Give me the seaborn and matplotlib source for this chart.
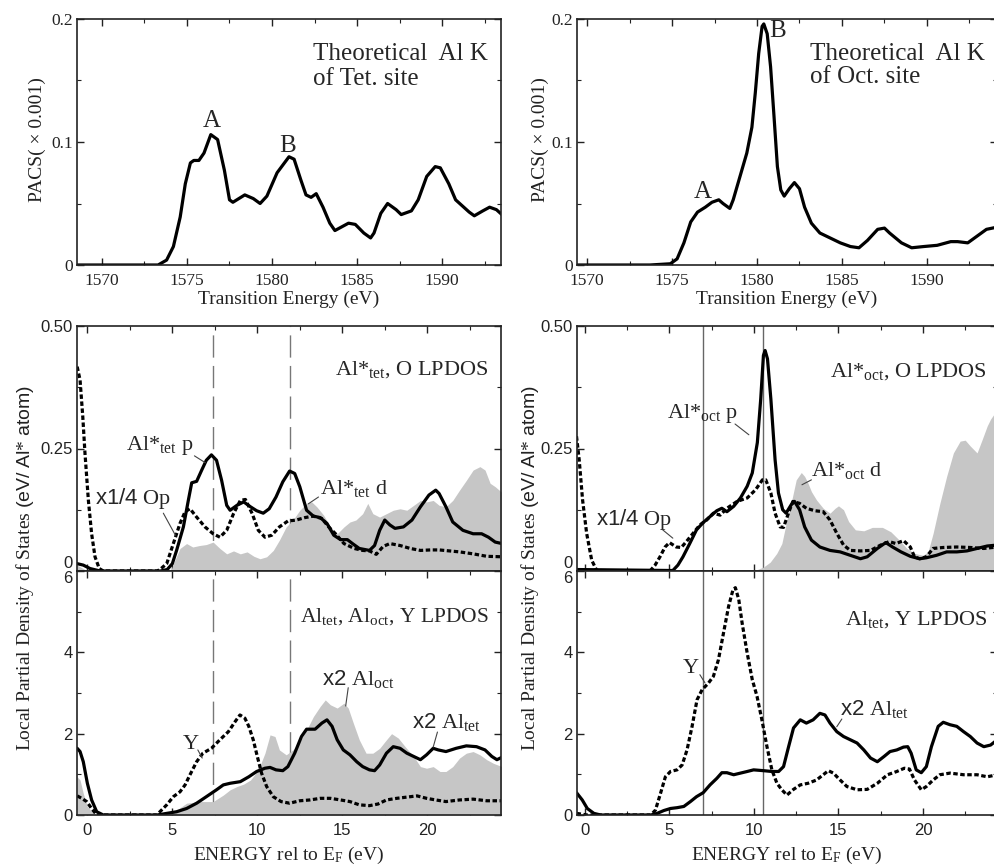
import numpy as np
import matplotlib
matplotlib.use("Agg")
import matplotlib.pyplot as plt
import seaborn as sns
from matplotlib.ticker import MultipleLocator

# ---------------- data ----------------
# XANES (top panels)
E_tet = [1568.5, 1573.3, 1573.8, 1574.2, 1574.6, 1574.9, 1575.2, 1575.4, 1575.7, 1576.0, 1576.4, 1576.8,
         1577.2, 1577.5, 1577.7, 1578.4, 1578.9, 1579.3, 1579.7, 1580.3, 1581.0, 1581.3, 1581.7, 1582.0,
         1582.3, 1582.6, 1583.0, 1583.4, 1583.7, 1584.1, 1584.5, 1584.9, 1585.4, 1585.8, 1586.0, 1586.4,
         1586.8, 1587.3, 1587.6, 1588.2, 1588.6, 1589.1, 1589.6, 1589.9, 1590.4, 1590.8, 1591.2, 1591.6,
         1591.9, 1592.4, 1592.8, 1593.2, 1593.6]
P_tet = [0, 0, 0.004, 0.015, 0.039, 0.066, 0.083, 0.085, 0.085, 0.091, 0.106, 0.102,
         0.077, 0.053, 0.051, 0.057, 0.054, 0.050, 0.056, 0.075, 0.088, 0.086, 0.069, 0.057,
         0.055, 0.058, 0.047, 0.034, 0.028, 0.031, 0.034, 0.033, 0.026, 0.022, 0.026, 0.042,
         0.050, 0.045, 0.041, 0.044, 0.053, 0.072, 0.080, 0.079, 0.066, 0.053, 0.048, 0.043,
         0.040, 0.044, 0.047, 0.045, 0.040]

E_oct = [1569.4, 1573.7, 1574.9, 1575.3, 1575.7, 1576.1, 1576.5, 1576.96, 1577.35, 1577.75, 1578.0,
         1578.4, 1578.6, 1579.0, 1579.4, 1579.7, 1579.9, 1580.1, 1580.3, 1580.4, 1580.6, 1580.8, 1581.0,
         1581.2, 1581.4, 1581.6, 1581.9, 1582.2, 1582.5, 1582.8, 1583.2, 1583.7, 1584.3, 1584.9, 1585.5,
         1586.0, 1586.5, 1587.1, 1587.5, 1587.8, 1588.5, 1589.1, 1589.8, 1590.6, 1591.4, 1591.8, 1592.4,
         1593.0, 1593.5, 1594.2]
P_oct = [0, 0, 0.001, 0.005, 0.018, 0.035, 0.043, 0.047, 0.051, 0.053, 0.050,
         0.046, 0.053, 0.072, 0.091, 0.112, 0.140, 0.172, 0.194, 0.196, 0.188, 0.161, 0.121,
         0.080, 0.061, 0.056, 0.062, 0.067, 0.062, 0.047, 0.034, 0.026, 0.022, 0.018, 0.015,
         0.014, 0.020, 0.029, 0.030, 0.026, 0.018, 0.014, 0.015, 0.016, 0.019, 0.019, 0.018,
         0.024, 0.029, 0.031]

# Middle-left: Al*tet p (solid), x1/4 O p (dashed), Al*tet d (filled)
Ep_tet = [-0.6, -0.24, 0.16, 0.75, 4.3, 4.7, 5.0, 5.25, 5.65, 5.94, 6.14, 6.43, 6.73, 7.0, 7.3, 7.6,
          7.9, 8.2, 8.4, 8.8, 9.2, 9.6, 9.96, 10.35, 10.7, 11.1, 11.5, 11.9, 12.2, 12.5, 12.9, 13.3,
          13.7, 14.1, 14.5, 14.9, 15.3, 15.6, 16.0, 16.6, 16.9, 17.2, 17.5, 17.8, 18.1, 18.6, 19.1,
          19.6, 20.1, 20.5, 20.7, 21.1, 21.5, 22.1, 22.7, 23.2, 23.6, 24.0, 24.4]
Vp_tet = [0.015, 0.012, 0.005, 0, 0, 0.003, 0.015, 0.042, 0.09, 0.144, 0.18, 0.183, 0.206, 0.226,
          0.237, 0.226, 0.185, 0.134, 0.124, 0.134, 0.141, 0.131, 0.123, 0.118, 0.127, 0.151, 0.182,
          0.204, 0.199, 0.172, 0.124, 0.112, 0.109, 0.097, 0.073, 0.064, 0.064, 0.056, 0.046, 0.042,
          0.052, 0.083, 0.104, 0.094, 0.087, 0.09, 0.104, 0.131, 0.155, 0.165, 0.158, 0.131, 0.100,
          0.083, 0.076, 0.076, 0.069, 0.059, 0.056]

Eo_tet = [-0.6, -0.43, -0.27, -0.14, 0.06, 0.25, 0.45, 0.7, 0.94, 4.1, 4.27, 4.67, 5.06, 5.45, 5.75,
          6.04, 6.43, 6.92, 7.4, 7.8, 8.2, 8.6, 9.0, 9.3, 9.7, 10.06, 10.45, 10.85, 11.3, 11.8, 12.3,
          12.8, 13.3, 13.8, 14.2, 14.6, 15.1, 15.7, 16.2, 16.6, 17.0, 17.4, 17.8, 18.4, 19.0, 19.6,
          20.2, 20.7, 21.3, 21.9, 22.7, 23.5, 24.4]
Vo_tet = [0.417, 0.39, 0.315, 0.24, 0.144, 0.076, 0.029, 0.005, 0, 0, 0.003, 0.015, 0.056, 0.097,
          0.121, 0.127, 0.110, 0.09, 0.076, 0.069, 0.083, 0.117, 0.144, 0.146, 0.117, 0.083, 0.069,
          0.073, 0.090, 0.102, 0.104, 0.109, 0.112, 0.107, 0.090, 0.076, 0.056, 0.046, 0.042, 0.041,
          0.034, 0.050, 0.056, 0.052, 0.046, 0.042, 0.043, 0.043, 0.041, 0.039, 0.035, 0.030, 0.029]

Ed_tet = [-0.6, -0.3, 0.0, 4.9, 5.06, 5.45, 5.84, 6.2, 6.6, 7.0, 7.4, 7.8, 8.2, 8.6, 9.0, 9.4, 9.8,
          10.16, 10.55, 10.94, 11.3, 11.7, 12.1, 12.5, 12.9, 13.2, 13.5, 13.9, 14.3, 14.7, 15.1,
          15.45, 15.8, 16.2, 16.5, 16.8, 17.2, 17.6, 18.0, 18.4, 18.8, 19.2, 19.6, 19.96, 20.35,
          20.7, 21.1, 21.5, 21.9, 22.3, 22.7, 23.1, 23.4, 23.7, 24.0, 24.4]
Vd_tet = [0.012, 0.006, 0, 0, 0.015, 0.046, 0.056, 0.049, 0.052, 0.054, 0.059, 0.046, 0.035, 0.041,
          0.035, 0.039, 0.030, 0.025, 0.029, 0.042, 0.063, 0.090, 0.104, 0.124, 0.138, 0.141, 0.131,
          0.114, 0.090, 0.076, 0.090, 0.100, 0.104, 0.117, 0.138, 0.117, 0.110, 0.117, 0.124, 0.127,
          0.124, 0.134, 0.144, 0.141, 0.144, 0.134, 0.131, 0.144, 0.165, 0.185, 0.206, 0.213, 0.206,
          0.179, 0.172, 0.160]

# Middle-right: Al*oct p, x1/4 O p, Al*oct d
Ep_oct = [-0.5, 5.2, 5.5, 5.8, 6.2, 6.6, 7.0, 7.4, 7.8, 8.1, 8.4, 8.8, 9.2, 9.6, 9.9, 10.2, 10.4,
          10.56, 10.66, 10.8, 11.0, 11.25, 11.45, 11.7, 11.9, 12.2, 12.4, 12.7, 13.0, 13.4, 13.9,
          14.5, 15.1, 15.7, 16.3, 16.7, 17.3, 17.8, 18.2, 18.7, 19.25, 19.8, 20.2, 20.8, 21.4, 22.0,
          22.6, 23.2, 23.8, 24.4]
Vp_oct = [0.003, 0.001, 0.012, 0.029, 0.056, 0.084, 0.099, 0.111, 0.123, 0.128, 0.121, 0.132, 0.149,
          0.173, 0.2, 0.262, 0.351, 0.44, 0.45, 0.433, 0.351, 0.227, 0.159, 0.125, 0.118, 0.135,
          0.142, 0.125, 0.09, 0.063, 0.049, 0.042, 0.039, 0.032, 0.025, 0.029, 0.046, 0.058, 0.049,
          0.039, 0.030, 0.025, 0.027, 0.032, 0.039, 0.039, 0.041, 0.046, 0.051, 0.053]

Eo_oct = [-0.5, -0.34, -0.14, 0.1, 0.4, 0.7, 3.85, 4.15, 4.44, 4.74, 5.0, 5.4, 5.7, 6.0, 6.4, 6.8,
          7.2, 7.6, 8.0, 8.4, 9.0, 9.6, 10.1, 10.5, 10.7, 11.0, 11.25, 11.55, 11.75, 12.04, 12.3,
          12.7, 13.1, 13.6, 14.1, 14.5, 14.9, 15.3, 15.7, 16.3, 16.9, 17.5, 18.0, 18.4, 18.85, 19.25,
          19.5, 19.8, 20.2, 20.6, 21.2, 22.0, 22.8, 23.6, 24.4]
Vo_oct = [0.275, 0.227, 0.145, 0.077, 0.022, 0.001, 0, 0.012, 0.029, 0.049, 0.058, 0.049, 0.048,
          0.06, 0.077, 0.094, 0.104, 0.118, 0.114, 0.128, 0.142, 0.149, 0.166, 0.186, 0.186, 0.159,
          0.118, 0.09, 0.089, 0.118, 0.142, 0.138, 0.128, 0.123, 0.121, 0.104, 0.077, 0.053, 0.042,
          0.041, 0.042, 0.053, 0.060, 0.056, 0.062, 0.049, 0.029, 0.025, 0.029, 0.046, 0.048, 0.049,
          0.048, 0.046, 0.049]

Ed_oct = [-0.5, 5.5, 6.0, 10.2, 10.56, 10.96, 11.35, 11.65, 11.95, 12.24, 12.5, 12.8, 13.0, 13.2,
          13.4, 13.7, 14.1, 14.5, 14.8, 15.0, 15.3, 15.6, 16.0, 16.5, 17.0, 17.6, 18.1, 18.6, 19.05,
          19.5, 20.0, 20.3, 20.6, 21.0, 21.4, 21.8, 22.2, 22.5, 22.8, 23.2, 23.5, 23.8, 24.0, 24.4]
Vd_oct = [0, 0, 0.003, 0.003, 0.008, 0.018, 0.036, 0.056, 0.104, 0.145, 0.186, 0.201, 0.193, 0.179,
          0.162, 0.145, 0.128, 0.118, 0.128, 0.133, 0.125, 0.101, 0.084, 0.082, 0.089, 0.089, 0.080,
          0.063, 0.046, 0.036, 0.032, 0.039, 0.077, 0.138, 0.193, 0.241, 0.265, 0.267, 0.255, 0.241,
          0.268, 0.296, 0.31, 0.33]

# Bottom-left: x2 Al_tet (solid), Y (dashed), x2 Al_oct (filled)
Et_bl = [-0.6, -0.43, -0.24, 0.0, 0.25, 0.55, 0.94, 4.1, 4.67, 5.25, 5.84, 6.43, 7.0, 7.6, 8.0, 8.4,
         9.0, 9.5, 9.96, 10.45, 10.75, 11.1, 11.5, 11.8, 12.2, 12.6, 12.9, 13.4, 13.8, 14.1, 14.4,
         14.7, 15.06, 15.45, 15.85, 16.2, 16.6, 16.9, 17.2, 17.6, 18.0, 18.4, 18.8, 19.2, 19.6,
         19.96, 20.35, 20.65, 21.1, 21.7, 22.3, 22.9, 23.4, 23.8, 24.1, 24.4]
Vt_bl = [1.64, 1.56, 1.31, 0.78, 0.37, 0.08, 0, 0, 0.04, 0.08, 0.16, 0.29, 0.45, 0.62, 0.74, 0.78,
         0.82, 0.94, 1.07, 1.15, 1.17, 1.11, 1.09, 1.19, 1.52, 1.93, 2.11, 2.11, 2.26, 2.34, 2.18,
         1.85, 1.60, 1.48, 1.31, 1.19, 1.11, 1.09, 1.23, 1.52, 1.68, 1.64, 1.52, 1.44, 1.36, 1.48,
         1.64, 1.60, 1.56, 1.64, 1.70, 1.68, 1.60, 1.44, 1.36, 1.42]

Ey_bl = [-0.6, -0.33, -0.04, 0.25, 0.55, 4.1, 4.27, 4.67, 5.06, 5.45, 5.75, 6.04, 6.43, 6.8, 7.3,
         7.8, 8.3, 8.7, 8.98, 9.27, 9.5, 9.76, 10.0, 10.25, 10.55, 10.94, 11.4, 11.9, 12.5, 13.1,
         13.7, 14.3, 14.9, 15.45, 16.0, 16.6, 17.1, 17.6, 18.2, 18.8, 19.4, 19.96, 20.5, 21.1, 21.9,
         22.7, 23.5, 24.4]
Vy_bl = [0.47, 0.41, 0.33, 0.16, 0, 0, 0.08, 0.25, 0.45, 0.57, 0.74, 0.99, 1.31, 1.52, 1.64, 1.85,
         2.05, 2.30, 2.46, 2.38, 2.18, 1.85, 1.44, 1.03, 0.70, 0.45, 0.33, 0.29, 0.35, 0.37, 0.41,
         0.41, 0.37, 0.33, 0.25, 0.23, 0.27, 0.37, 0.41, 0.44, 0.47, 0.41, 0.37, 0.33, 0.37, 0.39,
         0.35, 0.35]

Ef_bl = [-0.6, -0.43, -0.24, 0.0, 0.35, 0.75, 4.1, 4.67, 5.25, 5.84, 6.6, 7.4, 8.0, 8.4, 8.8, 9.2,
         9.6, 10.06, 10.45, 10.75, 11.04, 11.3, 11.7, 12.1, 12.5, 12.9, 13.3, 13.7, 14.0, 14.3, 14.7,
         15.1, 15.35, 15.65, 16.0, 16.4, 16.8, 17.2, 17.6, 17.9, 18.3, 18.7, 19.2, 19.6, 19.96,
         20.35, 20.75, 21.1, 21.5, 21.9, 22.3, 22.7, 23.1, 23.5, 23.9, 24.4]
Vf_bl = [0.94, 0.86, 0.53, 0.21, 0.04, 0, 0, 0.04, 0.12, 0.29, 0.33, 0.33, 0.49, 0.62, 0.70, 0.76,
         0.86, 1.11, 1.52, 1.97, 1.93, 1.60, 1.48, 1.60, 1.81, 2.09, 2.42, 2.67, 2.83, 2.71, 2.63,
         2.75, 2.63, 2.26, 1.85, 1.52, 1.52, 1.64, 1.85, 2.0, 1.89, 1.68, 1.44, 1.19, 1.15, 1.19,
         1.07, 1.07, 1.19, 1.40, 1.52, 1.56, 1.48, 1.36, 1.27, 1.19]

# Bottom-right: x2 Al_tet (solid), Y (dashed)
Et_br = [-0.5, -0.16, 0.14, 0.53, 0.93, 3.9, 4.27, 4.67, 5.06, 5.45, 5.85, 6.24, 6.6, 7.0, 7.4, 7.8,
         8.1, 8.4, 8.8, 9.2, 9.6, 9.98, 10.57, 11.06, 11.46, 11.75, 12.05, 12.34, 12.74, 13.1, 13.5,
         13.9, 14.2, 14.5, 14.9, 15.3, 15.7, 16.1, 16.5, 16.9, 17.3, 17.7, 18.05, 18.45, 18.85, 19.1,
         19.3, 19.6, 19.9, 20.2, 20.5, 20.9, 21.2, 21.6, 22.0, 22.4, 22.8, 23.2, 23.6, 24.0, 24.4]
Vt_br = [0.55, 0.37, 0.16, 0.04, 0, 0, 0.04, 0.11, 0.16, 0.18, 0.21, 0.33, 0.45, 0.55, 0.74, 0.90,
         1.04, 1.04, 0.99, 1.03, 1.07, 1.11, 1.09, 1.07, 1.07, 1.19, 1.68, 2.14, 2.34, 2.26, 2.34,
         2.5, 2.46, 2.26, 2.05, 1.93, 1.85, 1.77, 1.60, 1.40, 1.31, 1.44, 1.56, 1.60, 1.67, 1.68,
         1.52, 1.11, 1.04, 1.19, 1.68, 2.18, 2.28, 2.22, 2.18, 2.05, 1.93, 1.77, 1.68, 1.72, 1.85]

Ey_br = [-0.5, 0.14, 3.9, 4.17, 4.47, 4.76, 5.06, 5.45, 5.75, 6.04, 6.34, 6.63, 6.93, 7.3, 7.6, 7.9,
         8.2, 8.5, 8.76, 8.9, 9.1, 9.3, 9.6, 9.9, 10.18, 10.47, 10.77, 11.06, 11.36, 11.65, 11.95,
         12.34, 12.74, 13.2, 13.7, 14.1, 14.4, 14.7, 15.1, 15.5, 16.1, 16.7, 17.3, 17.9, 18.45, 18.9,
         19.2, 19.5, 19.9, 20.2, 20.6, 21.0, 21.6, 22.4, 23.2, 23.8, 24.4]
Vy_br = [0.04, 0, 0, 0.12, 0.53, 0.94, 1.07, 1.11, 1.23, 1.60, 2.18, 2.83, 3.08, 3.24, 3.41, 3.82,
         4.48, 5.13, 5.54, 5.59, 5.30, 4.72, 3.98, 3.33, 2.92, 2.34, 1.68, 1.11, 0.78, 0.62, 0.49,
         0.63, 0.74, 0.78, 0.86, 0.99, 1.09, 1.03, 0.86, 0.70, 0.62, 0.63, 0.78, 0.99, 1.07, 1.15,
         1.13, 0.86, 0.62, 0.70, 0.86, 0.99, 1.03, 0.99, 0.99, 0.94, 0.99]

# reference energies (vertical lines)
vlines_left = [7.4, 11.9]
vlines_right = [7.0, 10.55]

# ---------------- style ----------------
sns.set_theme(style="ticks")
plt.rcParams.update({
    "font.family": ["Liberation Serif", "DejaVu Serif"],
    "mathtext.fontset": "custom",
    "mathtext.rm": "Liberation Serif",
    "mathtext.it": "Liberation Serif:italic",
    "mathtext.bf": "Liberation Serif:bold",
    "mathtext.sf": "Liberation Sans",
    "axes.linewidth": 1.2,
    "axes.edgecolor": "#222222",
    "xtick.direction": "in",
    "ytick.direction": "in",
    "xtick.top": True,
    "ytick.right": True,
})

W, H = 994, 868
fig = plt.figure(figsize=(W / 100, H / 100), dpi=100)


def rect(l, r, t, b):
    return [l / W, 1 - b / H, (r - l) / W, (b - t) / H]


ax_tl = fig.add_axes(rect(77, 501, 19, 265))
ax_tr = fig.add_axes(rect(577, 997, 19, 265))
ax_ml = fig.add_axes(rect(77, 501, 326, 571))
ax_bl = fig.add_axes(rect(77, 501, 571, 815))
ax_mr = fig.add_axes(rect(577, 997, 326, 571))
ax_br = fig.add_axes(rect(577, 997, 571, 815))

LW = 2.3
DASH = (0, (1.4, 0.8))
SERIF = ["Liberation Serif", "DejaVu Serif"]
SANS = ["Liberation Sans", "DejaVu Sans"]
FILL = "#c6c6c6"
LEAD = dict(arrowstyle="-", color="#444444", lw=0.8, shrinkA=0, shrinkB=0)


def line(ax, x, y, dashed=False):
    sns.lineplot(x=x, y=y, ax=ax, color="black", lw=LW, ls=DASH if dashed else "-",
                 sort=False, estimator=None)


def tick_style(ax, sans):
    ax.tick_params(which="major", length=5, width=1.0, color="#222222")
    ax.tick_params(which="minor", length=3, width=0.8, color="#222222")
    ax.tick_params(axis="x", which="major", pad=6)
    ax.tick_params(axis="y", which="major", pad=3)
    for lab in ax.get_xticklabels() + ax.get_yticklabels():
        lab.set_family(SANS if sans else SERIF)
        lab.set_fontsize(12 if sans else 12.5)
        lab.set_color("#222222")


# ---------------- top panels ----------------
for ax, E, P, xl in [(ax_tl, E_tet, P_tet, (1568.53, 1593.47)),
                     (ax_tr, E_oct, P_oct, (1569.41, 1594.12))]:
    line(ax, E, P)
    ax.set_xlim(*xl)
    ax.set_ylim(0, 0.2)
    ax.xaxis.set_major_locator(MultipleLocator(5))
    ax.xaxis.set_minor_locator(MultipleLocator(2.5))
    ax.yaxis.set_minor_locator(MultipleLocator(0.05))
    ax.set_yticks([0, 0.1, 0.2])
    ax.set_yticklabels(["0", "0.1", "0.2"])
    ax.set_xlabel("Transition Energy (eV)", fontsize=14, labelpad=1, color="#222222")
    ax.set_ylabel("")
    tick_style(ax, sans=False)

fig.text(37 / W, 1 - 140 / H, "PACS( × 0.001)", rotation=90, ha="center", va="center",
         fontsize=14, color="#222222")
fig.text(540 / W, 1 - 140 / H, "PACS( × 0.001)", rotation=90, ha="center", va="center",
         fontsize=14, color="#222222")

TS = 18
ax_tl.text(1576.47, 0.112, "A", ha="center", va="baseline", fontsize=TS)
ax_tl.text(1580.94, 0.092, "B", ha="center", va="baseline", fontsize=TS)
ax_tl.text(1582.4, 0.1667, "Theoretical  Al K", ha="left", va="baseline", fontsize=TS)
ax_tl.text(1582.4, 0.1463, "of Tet. site", ha="left", va="baseline", fontsize=TS)

ax_tr.text(1576.8, 0.0545, "A", ha="center", va="baseline", fontsize=TS)
ax_tr.text(1581.2, 0.185, "B", ha="center", va="baseline", fontsize=TS)
ax_tr.text(1583.1, 0.1667, "Theoretical  Al K", ha="left", va="baseline", fontsize=TS)
ax_tr.text(1583.1, 0.148, "of Oct. site", ha="left", va="baseline", fontsize=TS)

# ---------------- middle panels ----------------
ax_ml.fill_between(Ed_tet, 0, Vd_tet, color=FILL, lw=0, zorder=1)
line(ax_ml, Ep_tet, Vp_tet)
line(ax_ml, Eo_tet, Vo_tet, dashed=True)

ax_mr.fill_between(Ed_oct, 0, Vd_oct, color=FILL, lw=0, zorder=1)
line(ax_mr, Ep_oct, Vp_oct)
line(ax_mr, Eo_oct, Vo_oct, dashed=True)

# ---------------- bottom panels ----------------
ax_bl.fill_between(Ef_bl, 0, Vf_bl, color=FILL, lw=0, zorder=1)
line(ax_bl, Et_bl, Vt_bl)
line(ax_bl, Ey_bl, Vy_bl, dashed=True)

line(ax_br, Et_br, Vt_br)
line(ax_br, Ey_br, Vy_br, dashed=True)

for ax, xl in [(ax_ml, (-0.61, 24.34)), (ax_bl, (-0.61, 24.34)),
               (ax_mr, (-0.47, 24.38)), (ax_br, (-0.47, 24.38))]:
    ax.set_xlim(*xl)
    ax.xaxis.set_major_locator(MultipleLocator(5))
    ax.xaxis.set_minor_locator(MultipleLocator(2.5))
    ax.set_ylabel("")
    ax.set_xlabel("")

for ax in (ax_ml, ax_mr):
    ax.set_ylim(0, 0.5)
    ax.set_yticks([0, 0.25, 0.5])
    ax.set_yticklabels(["0", "0.25", "0.50"])
    ax.yaxis.set_minor_locator(MultipleLocator(0.125))
    ax.set_xticklabels([])
    tick_style(ax, sans=True)
    ax.yaxis.get_major_ticks()[0].label1.set_verticalalignment("bottom")

for ax in (ax_bl, ax_br):
    ax.set_ylim(0, 6)
    ax.set_yticks([0, 2, 4, 6])
    ax.set_yticklabels(["0", "2", "4", "6"])
    ax.yaxis.set_minor_locator(MultipleLocator(1))
    ax.set_xticks([0, 5, 10, 15, 20])
    ax.set_xticklabels(["0", "5", "10", "15", "20"])
    ax.set_xlabel(r"ENERGY rel to E$_{\rm F}$ (eV)", fontsize=14, labelpad=5, color="#222222")
    tick_style(ax, sans=True)
    ax.yaxis.get_major_ticks()[-1].label1.set_verticalalignment("top")

for ax in (ax_ml, ax_bl):
    for v in vlines_left:
        ax.axvline(v, color="#777777", lw=1.0, ls=(0, (16, 6)), zorder=0.5)
for ax in (ax_mr, ax_br):
    for v in vlines_right:
        ax.axvline(v, color="#666666", lw=1.0, zorder=0.5)

ylab = r"Local Partial Density of States $\mathsf{(eV/\ Al}$*$\mathsf{\ atom)}$"
fig.text(25 / W, 1 - 568 / H, ylab, rotation=90, ha="center", va="center", fontsize=14,
         color="#222222")
fig.text(530 / W, 1 - 568 / H, ylab, rotation=90, ha="center", va="center", fontsize=14,
         color="#222222")

AS = 16
# middle-left annotations
ax_ml.text(14.6, 0.40, r"Al*$_{\rm tet}$, O LPDOS", fontsize=AS, va="baseline")
ax_ml.text(2.3, 0.247, r"Al*$_{\rm tet}$ p", fontsize=AS, va="baseline")
ax_ml.annotate("", xy=(6.94, 0.221), xytext=(6.3, 0.235), arrowprops=LEAD)
ax_ml.text(0.47, 0.137, r"$\mathsf{x1/4}$ Op", fontsize=AS, va="baseline")
ax_ml.annotate("", xy=(5.18, 0.073), xytext=(4.47, 0.118), arrowprops=LEAD)
ax_ml.text(13.7, 0.157, r"Al*$_{\rm tet}$ d", fontsize=AS, va="baseline")
ax_ml.annotate("", xy=(13.0, 0.137), xytext=(13.6, 0.151), arrowprops=LEAD)

# middle-right annotations
ax_mr.text(14.5, 0.396, r"Al*$_{\rm oct}$, O LPDOS", fontsize=AS, va="baseline")
ax_mr.text(4.85, 0.312, r"Al*$_{\rm oct}$ p", fontsize=AS, va="baseline")
ax_mr.annotate("", xy=(9.7, 0.278), xytext=(8.88, 0.300), arrowprops=LEAD)
ax_mr.text(13.4, 0.194, r"Al*$_{\rm oct}$ d", fontsize=AS, va="baseline")
ax_mr.annotate("", xy=(12.84, 0.176), xytext=(13.4, 0.186), arrowprops=LEAD)
ax_mr.text(0.65, 0.094, r"$\mathsf{x1/4}$ Op", fontsize=AS, va="baseline")
ax_mr.annotate("", xy=(5.2, 0.067), xytext=(4.6, 0.084), arrowprops=LEAD)

# bottom-left annotations
ax_bl.text(12.5, 4.75, r"Al$_{\rm tet}$, Al$_{\rm oct}$, Y LPDOS", fontsize=15.5, va="baseline")
ax_bl.text(13.8, 3.2, r"$\mathsf{x2}$ Al$_{\rm oct}$", fontsize=AS, va="baseline")
ax_bl.annotate("", xy=(15.2, 2.68), xytext=(15.35, 3.13), arrowprops=LEAD)
ax_bl.text(19.1, 2.14, r"$\mathsf{x2}$ Al$_{\rm tet}$", fontsize=AS, va="baseline")
ax_bl.annotate("", xy=(20.35, 1.67), xytext=(20.6, 2.04), arrowprops=LEAD)
ax_bl.text(5.6, 1.63, "Y", fontsize=AS, va="baseline")
ax_bl.annotate("", xy=(6.76, 1.40), xytext=(6.5, 1.60), arrowprops=LEAD)

# bottom-right annotations
ax_br.text(15.4, 4.68, r"Al$_{\rm tet}$, Y LPDOS", fontsize=AS, va="baseline")
ax_br.text(15.1, 2.46, r"$\mathsf{x2}$ Al$_{\rm tet}$", fontsize=AS, va="baseline")
ax_br.annotate("", xy=(14.9, 2.17), xytext=(15.2, 2.36), arrowprops=LEAD)
ax_br.text(5.8, 3.5, "Y", fontsize=AS, va="baseline")
ax_br.annotate("", xy=(7.1, 3.25), xytext=(6.8, 3.45), arrowprops=LEAD)

fig.savefig("out.png", dpi=100)
